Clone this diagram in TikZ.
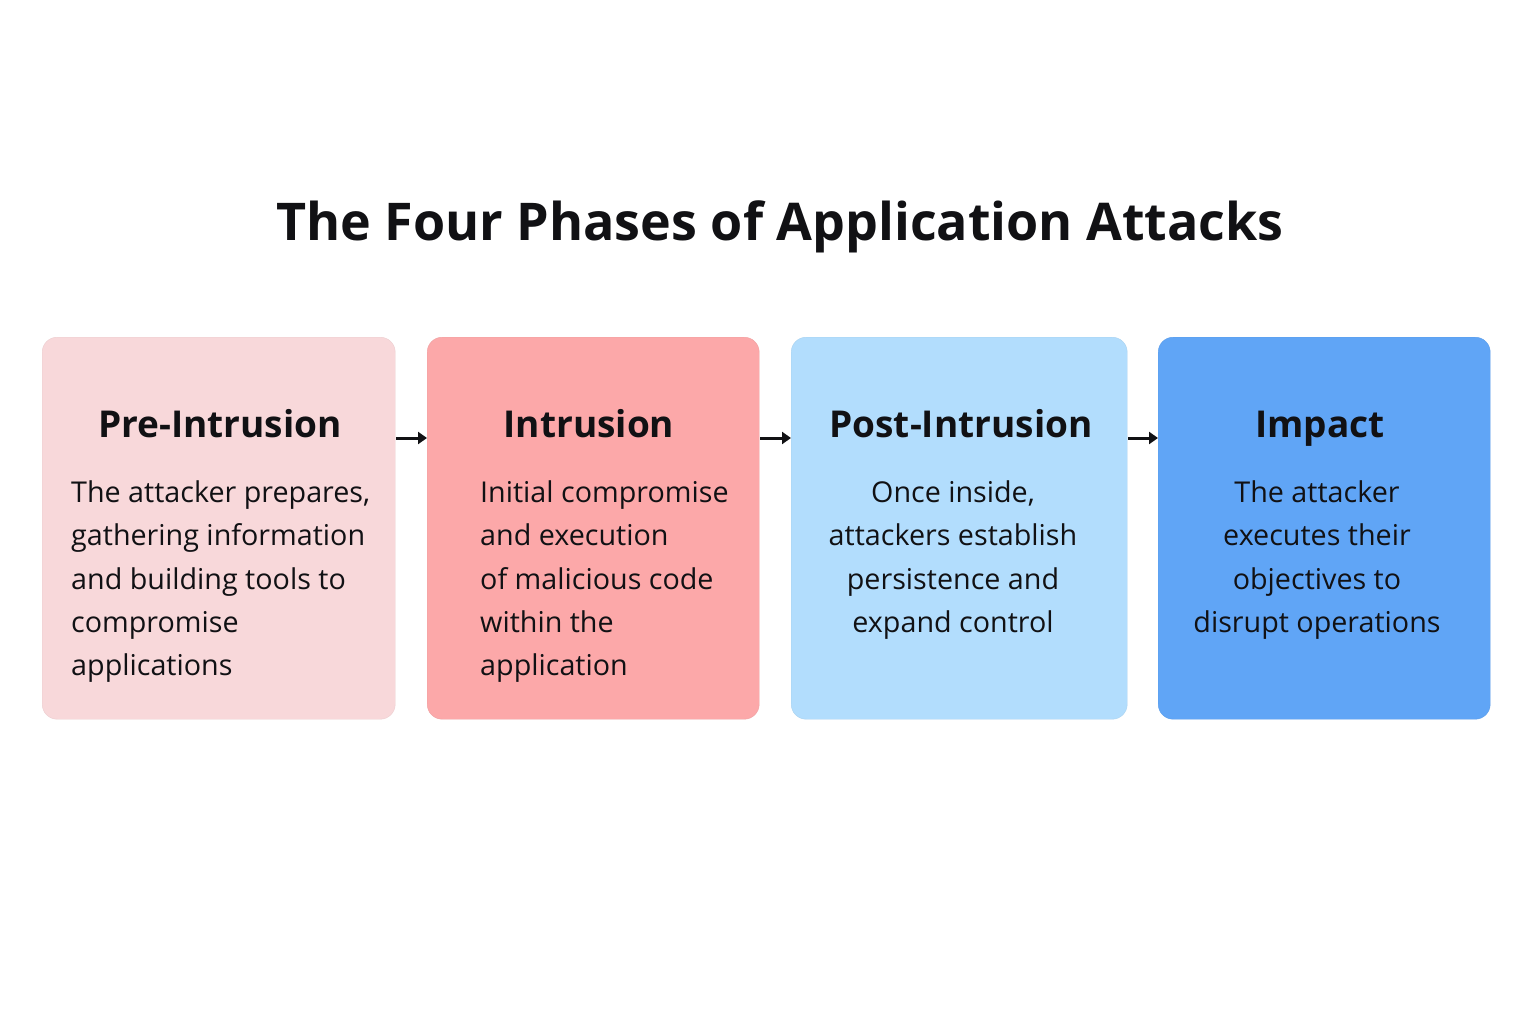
\documentclass[tikz,border=0pt]{standalone}
\usepackage{fontspec}
\setmainfont{Open Sans}
\usetikzlibrary{arrows.meta}
\definecolor{cA}{HTML}{F8D8DA}
\definecolor{cB}{HTML}{FCA8A9}
\definecolor{cC}{HTML}{B2DDFD}
\definecolor{cD}{HTML}{60A5F6}
\definecolor{ink}{HTML}{111114}
\tikzset{
  box/.style={rounded corners=15pt, inner sep=0pt, anchor=north west},
  head/.style={font=\fontsize{37}{44}\selectfont\bfseries, text=ink, anchor=base, inner sep=0pt},
  body/.style={font=\fontsize{28.7}{43.4}\selectfont, text=ink, inner sep=0pt},
  title/.style={font=\fontsize{52}{60}\selectfont\bfseries, text=ink, anchor=base, inner sep=0pt},
  conn/.style={-{Triangle[length=9pt,width=12pt]}, line width=3pt, draw=ink, fill=ink, shorten <=1pt}
}
\begin{document}
\begin{tikzpicture}[x=1pt,y=-1pt]
\useasboundingbox[fill=white] (0,0) rectangle (1536,1024);
\node[title] (t) at (780,241) {The Four Phases of Application Attacks};
\node[box, fill=cA, draw=cA!95!black, minimum width=353pt, minimum height=382pt] (b1) at (42,337) {};
\node[box, fill=cB, draw=cB!95!black, minimum width=332pt, minimum height=382pt] (b2) at (427,337) {};
\node[box, fill=cC, draw=cC!95!black, minimum width=336pt, minimum height=382pt] (b3) at (791,337) {};
\node[box, fill=cD, draw=cD!95!black, minimum width=332pt, minimum height=382pt] (b4) at (1158,337) {};
\node[head] (h1) at (220,437) {Pre-Intrusion};
\node[head] (h2) at (589,437) {Intrusion};
\node[head] (h3) at (961,437) {Post-Intrusion};
\node[head] (h4) at (1320,437) {Impact};
\node[body, align=left, anchor=north west] (d1) at (71,477) {\rule{0pt}{25pt}The attacker prepares,\\gathering information\\and building tools to\\compromise\\applications};
\node[body, align=left, anchor=north west] (d2) at (480,477) {\rule{0pt}{25pt}Initial compromise\\and execution\\of malicious code\\within the\\application};
\node[body, align=center, anchor=north] (d3) at (953,477) {\rule{0pt}{25pt}Once inside,\\attackers establish\\persistence and\\expand control};
\node[body, align=center, anchor=north] (d4) at (1317,477) {\rule{0pt}{25pt}The attacker\\executes their\\objectives to\\disrupt operations};
\draw[conn] ([yshift=-1pt]b1.east |- h1.base) -- ([yshift=-1pt]b2.west |- h1.base);
\draw[conn] ([yshift=-1pt]b2.east |- h1.base) -- ([yshift=-1pt]b3.west |- h1.base);
\draw[conn] ([yshift=-1pt]b3.east |- h1.base) -- ([yshift=-1pt]b4.west |- h1.base);
\end{tikzpicture}
\end{document}
